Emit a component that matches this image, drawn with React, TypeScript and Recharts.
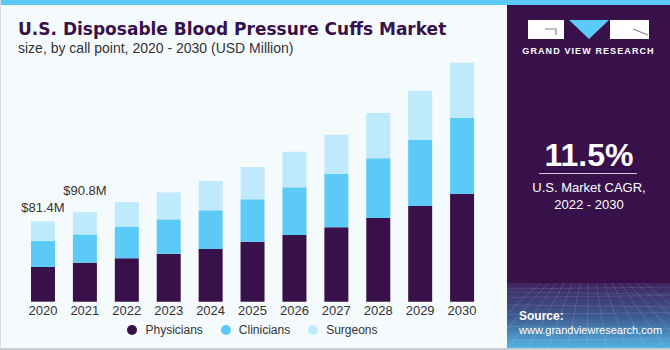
import React from "react";
import { BarChart, Bar, XAxis, YAxis, Legend, LabelList } from "recharts";

const years = ["2020", "2021", "2022", "2023", "2024", "2025", "2026", "2027", "2028", "2029", "2030"];
const physicians = [35.3, 39.5, 44.0, 48.7, 53.5, 60.9, 67.7, 75.5, 85.0, 97.1, 109.3];
const clinicians = [26.5, 28.8, 31.8, 34.9, 39.3, 43.0, 48.4, 54.1, 60.6, 67.0, 77.4];
const surgeons = [19.6, 22.5, 25.4, 27.4, 29.7, 32.8, 36.1, 39.9, 46.0, 50.0, 55.8];
const topLabels = ["$81.4M", "$90.8M"];

const COLORS = {
  physicians: "#38114a",
  clinicians: "#5ccaf7",
  surgeons: "#bfeafb",
};

const FONT = "'Liberation Sans', Arial, sans-serif";

const data = years.map((y, i) => ({
  year: y,
  physicians: physicians[i],
  clinicians: clinicians[i],
  surgeons: surgeons[i],
}));

const legendItems = [
  { key: "physicians", label: "Physicians" },
  { key: "clinicians", label: "Clinicians" },
  { key: "surgeons", label: "Surgeons" },
];

function TopLabel(props: any) {
  const { x, y, width, index } = props;
  if (index > 1) return null;
  const gap = index === 0 ? 10 : 17;
  return (
    <text
      x={x + width / 2}
      y={y - gap}
      textAnchor="middle"
      fontSize={13}
      fill="#333"
      fontFamily={FONT}
    >
      {topLabels[index]}
    </text>
  );
}

function LegendContent() {
  return (
    <div
      style={{
        display: "flex",
        justifyContent: "center",
        alignItems: "center",
        gap: 18,
        fontFamily: FONT,
        fontSize: 12,
        color: "#333",
        height: 24,
      }}
    >
      {legendItems.map((it) => (
        <div key={it.key} style={{ display: "flex", alignItems: "center" }}>
          <span
            style={{
              width: 10,
              height: 10,
              borderRadius: 5,
              background: (COLORS as any)[it.key],
              marginRight: 8,
              display: "inline-block",
            }}
          />
          {it.label}
        </div>
      ))}
    </div>
  );
}

function SidePanel() {
  const gridLines: JSX.Element[] = [];
  for (let i = 0; i < 14; i++) {
    const x = -40 + i * 20;
    gridLines.push(
      <line key={"v" + i} x1={82 + (x - 82) * 0.4} y1={0} x2={x} y2={67} stroke="rgba(255,255,255,0.18)" strokeWidth={0.7} />
    );
  }
  for (let j = 0; j < 8; j++) {
    const y = 6 + j * j * 1.1 + j * 2;
    gridLines.push(
      <line key={"h" + j} x1={0} y1={y} x2={164} y2={y + (j % 2 ? 2 : -2)} stroke="rgba(255,255,255,0.16)" strokeWidth={0.7} />
    );
  }
  return (
    <div
      style={{
        position: "absolute",
        left: 506,
        top: 5,
        width: 164,
        height: 345,
        background: "#38114a",
        color: "#fff",
        fontFamily: FONT,
        overflow: "hidden",
      }}
    >
      <svg width={164} height={60} style={{ position: "absolute", left: 0, top: 0 }}>
        <rect x={21} y={15} width={36} height={19} fill="#fff" />
        <polyline points="38,24 49,24 49,30" fill="none" stroke="#8a7f95" strokeWidth={1.2} />
        <polygon points="62,15 102,15 82,34" fill="#5ccaf7" />
        <rect x={103} y={15} width={39} height={19} fill="#fff" />
        <line x1={126} y1={24} x2={141} y2={30} stroke="#8a7f95" strokeWidth={1.2} />
        <text x={81.5} y={49} textAnchor="middle" fontSize={9} fontWeight="bold" letterSpacing={1.1} fill="#fff" fontFamily={FONT}>
          GRAND VIEW RESEARCH
        </text>
      </svg>
      <div style={{ position: "absolute", top: 132, width: 164, textAlign: "center", fontSize: 32, fontWeight: "bold", lineHeight: "36px" }}>
        11.5%
      </div>
      <div style={{ position: "absolute", left: 32, top: 168, width: 98, height: 1, background: "#cfc6d6" }} />
      <div style={{ position: "absolute", top: 174, width: 164, textAlign: "center", fontSize: 13, lineHeight: "17px" }}>
        U.S. Market CAGR,
        <br />
        2022 - 2030
      </div>
      <svg width={164} height={67} style={{ position: "absolute", left: 0, top: 278 }}>
        <defs>
          <linearGradient id="pg" x1="0" y1="0" x2="0" y2="1">
            <stop offset="0" stopColor="#3e2460" />
            <stop offset="0.5" stopColor="#3f5a90" />
            <stop offset="1" stopColor="#55b8e6" />
          </linearGradient>
        </defs>
        <rect x={0} y={0} width={164} height={67} fill="url(#pg)" />
        {gridLines}
      </svg>
      <div style={{ position: "absolute", left: 12, top: 304, fontSize: 11, lineHeight: "14px" }}>
        <div style={{ fontWeight: "bold", fontSize: 12 }}>Source:</div>
        <div>www.grandviewresearch.com</div>
      </div>
    </div>
  );
}

export default function App() {
  return (
    <div
      style={{
        position: "absolute",
        left: 0,
        top: 0,
        width: 670,
        height: 350,
        background: "#f5fafd",
        boxSizing: "border-box",
        borderLeft: "1px solid #d6dbe0",
        borderBottom: "2px solid #c9cdd2",
        overflow: "hidden",
      }}
    >
      <div style={{ position: "absolute", left: 0, top: 0, width: 670, height: 5, background: "#5ccaf7" }} />
      <div
        style={{
          position: "absolute",
          left: 17,
          top: 19,
          fontFamily: "'DejaVu Sans', Verdana, sans-serif",
          fontSize: 17,
          fontWeight: "bold",
          color: "#38114a",
          whiteSpace: "nowrap",
          lineHeight: "20px",
        }}
      >
        U.S. Disposable Blood Pressure Cuffs Market
      </div>
      <div
        style={{
          position: "absolute",
          left: 17,
          top: 40,
          fontFamily: FONT,
          fontSize: 14,
          color: "#333",
          whiteSpace: "nowrap",
          lineHeight: "17px",
        }}
      >
        size, by call point, 2020 - 2030 (USD Million)
      </div>
      <div style={{ position: "absolute", left: -1, top: 0 }}>
        <BarChart
          width={506}
          height={350}
          data={data}
          margin={{ top: 55.4, right: 23, left: 22, bottom: 8 }}
        >
          <YAxis hide domain={[0, 250]} />
          <XAxis
            dataKey="year"
            axisLine={false}
            tickLine={false}
            tickSize={4}
            tickMargin={0}
            height={16.3}
            interval={0}
            tick={{ fontSize: 13, fill: "#333", fontFamily: FONT }}
          />
          <Legend verticalAlign="bottom" height={24} content={<LegendContent />} />
          <Bar dataKey="physicians" stackId="a" fill={COLORS.physicians} barSize={24} isAnimationActive={false} />
          <Bar dataKey="clinicians" stackId="a" fill={COLORS.clinicians} barSize={24} isAnimationActive={false} />
          <Bar dataKey="surgeons" stackId="a" fill={COLORS.surgeons} barSize={24} isAnimationActive={false}>
            <LabelList dataKey="surgeons" content={<TopLabel />} />
          </Bar>
        </BarChart>
      </div>
      <SidePanel />
    </div>
  );
}
